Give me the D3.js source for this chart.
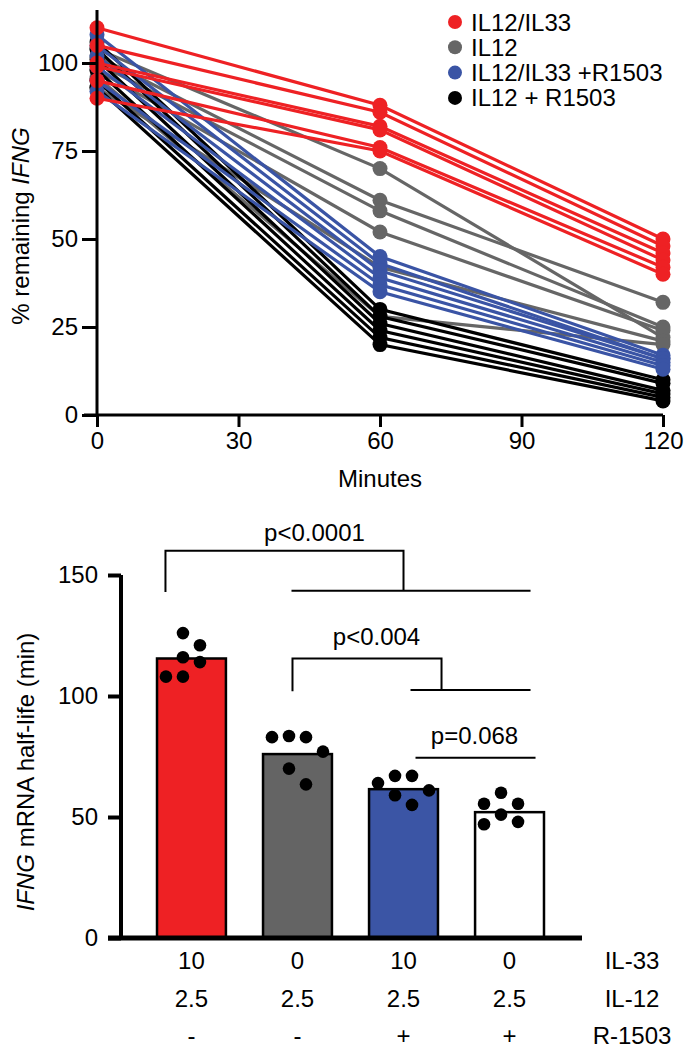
<!DOCTYPE html>
<html>
<head>
<meta charset="utf-8">
<script src="https://cdn.jsdelivr.net/npm/d3@7"></script>
<style>
  body { margin: 0; background: #fff; }
  svg { font-family: "Liberation Sans", Arial, Helvetica, sans-serif; }
</style>
</head>
<body>
<div id="chart"></div>
<script>
// ---- top panel data: % remaining IFNG at 0, 60, 120 min
var times = [0, 60, 120];
var groupNames = ["IL12/IL33", "IL12", "IL12/IL33 +R1503", "IL12 + R1503"];
var groupColors = ["#ee2124", "#666666", "#3a54a5", "#000000"];
var il12il33 = [[110, 88, 50], [105, 86, 48], [100, 82, 46], [99, 81, 44], [95, 76, 42], [90, 75, 40]];
var il12 = [[104, 70, 22], [102, 61, 32], [100, 58, 25], [98, 52, 24], [93, 42, 21], [96, 28, 20]];
var il12il33R = [[108, 45, 17], [105, 43, 16], [102, 41, 16], [99, 39, 15], [95, 37, 14], [92, 35, 13]];
var il12R = [[106, 30, 10], [104, 28, 9], [101, 26, 7], [98, 24, 6], [95, 22, 5], [93, 20, 4]];
var topTicksX = [0, 30, 60, 90, 120];
var topTicksY = [0, 25, 50, 75, 100];

// ---- bottom panel data: half-life (min)
var conditions = ["a", "b", "c", "d"];
var halfLifeMean = [115.5, 76, 61.5, 52];
var halfLifePoints = [
  [116, 121, 114, 126, 108, 108],
  [83, 83, 83.5, 77, 70, 63.5],
  [67, 61, 64, 59, 67, 55],
  [55.5, 55.5, 60, 51, 48, 47]
];
var barColors = ["#ee2124", "#646464", "#3b55a5", "#ffffff"];
var il33Row = ["10", "0", "10", "0"];
var il12Row = ["2.5", "2.5", "2.5", "2.5"];
var r1503Row = ["-", "-", "+", "+"];
var rowNames = ["IL-33", "IL-12", "R-1503"];
var bottomTicksY = [0, 50, 100, 150];
var pvals = ["p<0.0001", "p<0.004", "p=0.068"];

var FS = 24;
var svg = d3.select("#chart").append("svg")
  .attr("width", 688).attr("height", 1050);

// ================= TOP PANEL =================
var x = d3.scaleLinear().domain([0, 120]).range([97, 663]);
var y = d3.scaleLinear().domain([0, 100]).range([415, 63]);

var topG = svg.append("g");

// draw order: grey, black, blue, red on top
var groups = [il12, il12R, il12il33R, il12il33];
var gColors = [groupColors[1], groupColors[3], groupColors[2], groupColors[0]];
var line = d3.line().x(function(d, i) { return x(times[i]); }).y(function(d) { return y(d); });

groups.forEach(function(g, gi) {
  var gg = topG.append("g");
  gg.selectAll("path").data(g).enter().append("path")
    .attr("d", line)
    .attr("fill", "none")
    .attr("stroke", gColors[gi])
    .attr("stroke-width", 3.2);
  g.forEach(function(row) {
    gg.selectAll(null).data(row).enter().append("circle")
      .attr("cx", function(d, i) { return x(times[i]); })
      .attr("cy", function(d) { return y(d); })
      .attr("r", 7.5)
      .attr("fill", gColors[gi]);
  });
});

// axes
var yAxisTop = topG.append("g").attr("transform", "translate(97,0)")
  .call(d3.axisLeft(y).tickValues(topTicksY).tickSize(15).tickPadding(4));
yAxisTop.select(".domain").attr("d", "M0," + y(0) + "V10").attr("stroke-width", 3);
yAxisTop.selectAll(".tick line").attr("stroke-width", 3);
yAxisTop.selectAll("text").attr("font-size", FS).attr("font-family", null).attr("fill", "#000");

var xAxisTop = topG.append("g").attr("transform", "translate(0," + y(0) + ")")
  .call(d3.axisBottom(x).tickValues(topTicksX).tickSize(12).tickPadding(5));
xAxisTop.select(".domain").attr("d", "M84,0H" + x(120)).attr("stroke-width", 3);
xAxisTop.selectAll(".tick line").attr("stroke-width", 3);
xAxisTop.selectAll("text").attr("font-size", FS).attr("font-family", null).attr("fill", "#000");

topG.append("text").attr("x", x(60)).attr("y", 487).attr("text-anchor", "middle")
  .attr("font-size", FS).text("Minutes");

var ylab = topG.append("text").attr("transform", "translate(29,226) rotate(-90)")
  .attr("text-anchor", "middle").attr("font-size", FS);
ylab.append("tspan").text("% remaining ");
ylab.append("tspan").attr("font-style", "italic").text("IFNG");

// legend
var leg = topG.append("g");
groupNames.forEach(function(n, i) {
  leg.append("circle").attr("cx", 455).attr("cy", 22 + i * 25.3).attr("r", 7).attr("fill", groupColors[i]);
  leg.append("text").attr("x", 471).attr("y", 22 + i * 25.3 + 8.5).attr("font-size", FS).text(n);
});

// ================= BOTTOM PANEL =================
var xb = d3.scaleBand().domain(conditions).range([104, 597]).paddingInner(0.35).paddingOuter(0.5);
var yb = d3.scaleLinear().domain([0, 150]).range([938, 575]);
var bot = svg.append("g");

bot.selectAll("rect").data(halfLifeMean).enter().append("rect")
  .attr("x", function(d, i) { return xb(conditions[i]); })
  .attr("y", function(d) { return yb(d); })
  .attr("width", xb.bandwidth())
  .attr("height", function(d) { return yb(0) - yb(d); })
  .attr("fill", function(d, i) { return barColors[i]; })
  .attr("stroke", "#000").attr("stroke-width", 2.5);

// simple swarm layout for dots
var dotR = 6.3;
halfLifePoints.forEach(function(pts, gi) {
  var cx0 = xb(conditions[gi]) + xb.bandwidth() / 2;
  var placed = [];
  var step = 17;
  var order = pts.map(function(v, i) { return i; }).sort(function(a, b) { return pts[b] - pts[a]; });
  order.forEach(function(i) {
    var cy = yb(pts[i]);
    var cands = [];
    for (var k = 0; k < 6; k++) { cands.push(-k * step - step / 2); cands.push(k * step + step / 2); }
    var off = cands.find(function(o) {
      return placed.every(function(p) { return Math.hypot(p[0] - o, p[1] - cy) >= 16.5; });
    });
    placed.push([off, cy]);
  });
  bot.append("g").selectAll("circle").data(placed).enter().append("circle")
    .attr("cx", function(d) { return cx0 + d[0]; })
    .attr("cy", function(d) { return d[1]; })
    .attr("r", dotR).attr("fill", "#000");
});

var yAxisB = bot.append("g").attr("transform", "translate(121,0)")
  .call(d3.axisLeft(yb).tickValues(bottomTicksY).tickSize(13).tickPadding(10));
yAxisB.select(".domain").attr("d", "M0," + yb(0) + "V" + yb(150)).attr("stroke-width", 4);
yAxisB.selectAll(".tick line").attr("stroke-width", 4);
yAxisB.selectAll("text").attr("font-size", FS).attr("font-family", null).attr("fill", "#000");

bot.append("line").attr("x1", 108).attr("x2", 582).attr("y1", yb(0)).attr("y2", yb(0))
  .attr("stroke", "#000").attr("stroke-width", 5);

var ylb = bot.append("text").attr("transform", "translate(34,772) rotate(-90)")
  .attr("text-anchor", "middle").attr("font-size", FS);
ylb.append("tspan").attr("font-style", "italic").text("IFNG");
ylb.append("tspan").text(" mRNA half-life (min)");

// condition rows
[il33Row, il12Row, r1503Row].forEach(function(row, ri) {
  var yy = 969 + ri * 37.5;
  bot.append("g").selectAll("text").data(row).enter().append("text")
    .attr("x", function(d, i) { return xb(conditions[i]) + xb.bandwidth() / 2; })
    .attr("y", yy).attr("text-anchor", "middle").attr("font-size", FS).text(function(d) { return d; });
  bot.append("text").attr("x", 632).attr("y", yy).attr("text-anchor", "middle")
    .attr("font-size", FS).text(rowNames[ri]);
});

// significance brackets
function cx(i) { return xb(conditions[i]) + xb.bandwidth() / 2; }
var br = bot.append("g").attr("stroke", "#000").attr("stroke-width", 2).attr("fill", "none");
function bracket(x1, x2, yTop, yL, yR, lowFrom, lowTo) {
  br.append("path").attr("d", "M" + x1 + "," + yb(yL) + "V" + yb(yTop) + "H" + x2 + "V" + yb(yR));
  br.append("path").attr("d", "M" + lowFrom + "," + yb(yR) + "H" + lowTo);
}
bracket(cx(0) - 26, cx(2), 160, 143, 143.5, cx(1) - 6, cx(3) + 21);
bracket(cx(1) - 5, (cx(2) + cx(3)) / 2 - 15, 115.5, 102, 102.5, cx(2) + 7, cx(3) + 21);
br.append("path").attr("d", "M" + (cx(2) + 12) + "," + yb(74.5) + "H" + (cx(3) + 26));

bot.append("text").attr("x", (cx(0) - 26 + cx(2)) / 2 + 30).attr("y", yb(164)).attr("text-anchor", "middle")
  .attr("font-size", FS).text(pvals[0]);
bot.append("text").attr("x", (cx(1) + cx(2)) / 2 + 26).attr("y", yb(121)).attr("text-anchor", "middle")
  .attr("font-size", FS).text(pvals[1]);
bot.append("text").attr("x", (cx(2) + cx(3)) / 2 + 18).attr("y", yb(80)).attr("text-anchor", "middle")
  .attr("font-size", FS).text(pvals[2]);
</script>
</body>
</html>
